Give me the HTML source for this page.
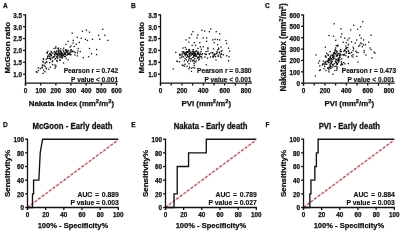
<!DOCTYPE html><html><head><meta charset="utf-8"><style>html,body{margin:0;padding:0;background:#fff;overflow:hidden}svg{display:block}</style></head><body><svg width="400" height="231" viewBox="0 0 400 231" font-family="'Liberation Sans', sans-serif" font-weight="bold" fill="#111" style="will-change:transform">
<g>
<rect width="400" height="231" fill="#fff"/>
<text x="0" y="0" transform="translate(3.10 7.50) scale(1 1.0)" font-size="6.5" text-anchor="start" stroke="#111" stroke-width="0.25" >A</text>
<text x="0" y="0" transform="translate(131.10 7.50) scale(1 1.0)" font-size="6.5" text-anchor="start" stroke="#111" stroke-width="0.25" >B</text>
<text x="0" y="0" transform="translate(265.10 7.50) scale(1 1.0)" font-size="6.5" text-anchor="start" stroke="#111" stroke-width="0.25" >C</text>
<text x="0" y="0" transform="translate(3.10 126.70) scale(1 1.0)" font-size="6.5" text-anchor="start" stroke="#111" stroke-width="0.25" >D</text>
<text x="0" y="0" transform="translate(131.30 126.70) scale(1 1.0)" font-size="6.5" text-anchor="start" stroke="#111" stroke-width="0.25" >E</text>
<text x="0" y="0" transform="translate(265.60 126.70) scale(1 1.0)" font-size="6.5" text-anchor="start" stroke="#111" stroke-width="0.25" >F</text>
<rect x="50.91" y="54.57" width="1.3" height="1.3" fill="#111"/>
<rect x="66.16" y="50.98" width="1.3" height="1.3" fill="#111"/>
<rect x="50.08" y="53.63" width="1.3" height="1.3" fill="#111"/>
<rect x="62.93" y="55.03" width="1.3" height="1.3" fill="#111"/>
<rect x="50.58" y="50.74" width="1.3" height="1.3" fill="#111"/>
<rect x="64.38" y="53.44" width="1.3" height="1.3" fill="#111"/>
<rect x="70.26" y="54.03" width="1.3" height="1.3" fill="#111"/>
<rect x="58.58" y="52.29" width="1.3" height="1.3" fill="#111"/>
<rect x="77.19" y="50.39" width="1.3" height="1.3" fill="#111"/>
<rect x="53.62" y="50.79" width="1.3" height="1.3" fill="#111"/>
<rect x="60.05" y="53.12" width="1.3" height="1.3" fill="#111"/>
<rect x="56.93" y="52.95" width="1.3" height="1.3" fill="#111"/>
<rect x="61.41" y="54.24" width="1.3" height="1.3" fill="#111"/>
<rect x="67.04" y="52.56" width="1.3" height="1.3" fill="#111"/>
<rect x="47.05" y="55.71" width="1.3" height="1.3" fill="#111"/>
<rect x="49.42" y="53.45" width="1.3" height="1.3" fill="#111"/>
<rect x="49.09" y="53.88" width="1.3" height="1.3" fill="#111"/>
<rect x="53.98" y="53.88" width="1.3" height="1.3" fill="#111"/>
<rect x="64.91" y="49.23" width="1.3" height="1.3" fill="#111"/>
<rect x="57.50" y="54.57" width="1.3" height="1.3" fill="#111"/>
<rect x="58.79" y="53.76" width="1.3" height="1.3" fill="#111"/>
<rect x="59.84" y="50.48" width="1.3" height="1.3" fill="#111"/>
<rect x="63.09" y="50.60" width="1.3" height="1.3" fill="#111"/>
<rect x="72.27" y="50.39" width="1.3" height="1.3" fill="#111"/>
<rect x="64.13" y="52.38" width="1.3" height="1.3" fill="#111"/>
<rect x="65.85" y="50.81" width="1.3" height="1.3" fill="#111"/>
<rect x="66.28" y="51.87" width="1.3" height="1.3" fill="#111"/>
<rect x="68.29" y="53.40" width="1.3" height="1.3" fill="#111"/>
<rect x="60.15" y="50.97" width="1.3" height="1.3" fill="#111"/>
<rect x="64.81" y="53.38" width="1.3" height="1.3" fill="#111"/>
<rect x="70.70" y="50.84" width="1.3" height="1.3" fill="#111"/>
<rect x="63.33" y="53.62" width="1.3" height="1.3" fill="#111"/>
<rect x="61.37" y="53.13" width="1.3" height="1.3" fill="#111"/>
<rect x="60.48" y="51.35" width="1.3" height="1.3" fill="#111"/>
<rect x="52.19" y="52.65" width="1.3" height="1.3" fill="#111"/>
<rect x="63.81" y="55.90" width="1.3" height="1.3" fill="#111"/>
<rect x="66.40" y="54.58" width="1.3" height="1.3" fill="#111"/>
<rect x="64.92" y="53.91" width="1.3" height="1.3" fill="#111"/>
<rect x="60.80" y="54.49" width="1.3" height="1.3" fill="#111"/>
<rect x="71.63" y="50.86" width="1.3" height="1.3" fill="#111"/>
<rect x="54.97" y="57.82" width="1.3" height="1.3" fill="#111"/>
<rect x="61.28" y="54.90" width="1.3" height="1.3" fill="#111"/>
<rect x="65.18" y="49.64" width="1.3" height="1.3" fill="#111"/>
<rect x="76.71" y="55.21" width="1.3" height="1.3" fill="#111"/>
<rect x="60.76" y="54.45" width="1.3" height="1.3" fill="#111"/>
<rect x="60.03" y="50.74" width="1.3" height="1.3" fill="#111"/>
<rect x="58.66" y="53.78" width="1.3" height="1.3" fill="#111"/>
<rect x="67.28" y="53.69" width="1.3" height="1.3" fill="#111"/>
<rect x="60.08" y="55.91" width="1.3" height="1.3" fill="#111"/>
<rect x="54.23" y="55.20" width="1.3" height="1.3" fill="#111"/>
<rect x="67.03" y="51.40" width="1.3" height="1.3" fill="#111"/>
<rect x="46.67" y="52.03" width="1.3" height="1.3" fill="#111"/>
<rect x="61.12" y="53.89" width="1.3" height="1.3" fill="#111"/>
<rect x="69.90" y="49.47" width="1.3" height="1.3" fill="#111"/>
<rect x="59.51" y="54.33" width="1.3" height="1.3" fill="#111"/>
<rect x="57.71" y="47.54" width="1.3" height="1.3" fill="#111"/>
<rect x="65.50" y="57.58" width="1.3" height="1.3" fill="#111"/>
<rect x="66.13" y="50.05" width="1.3" height="1.3" fill="#111"/>
<rect x="56.53" y="53.65" width="1.3" height="1.3" fill="#111"/>
<rect x="76.83" y="52.52" width="1.3" height="1.3" fill="#111"/>
<rect x="60.50" y="56.33" width="1.3" height="1.3" fill="#111"/>
<rect x="59.21" y="57.17" width="1.3" height="1.3" fill="#111"/>
<rect x="54.47" y="52.24" width="1.3" height="1.3" fill="#111"/>
<rect x="64.70" y="55.61" width="1.3" height="1.3" fill="#111"/>
<rect x="63.97" y="53.08" width="1.3" height="1.3" fill="#111"/>
<rect x="46.50" y="52.49" width="1.3" height="1.3" fill="#111"/>
<rect x="54.97" y="52.06" width="1.3" height="1.3" fill="#111"/>
<rect x="63.36" y="51.67" width="1.3" height="1.3" fill="#111"/>
<rect x="64.86" y="52.49" width="1.3" height="1.3" fill="#111"/>
<rect x="57.06" y="53.35" width="1.3" height="1.3" fill="#111"/>
<rect x="62.53" y="54.51" width="1.3" height="1.3" fill="#111"/>
<rect x="55.97" y="52.65" width="1.3" height="1.3" fill="#111"/>
<rect x="50.22" y="57.47" width="1.3" height="1.3" fill="#111"/>
<rect x="69.42" y="51.43" width="1.3" height="1.3" fill="#111"/>
<rect x="55.73" y="50.36" width="1.3" height="1.3" fill="#111"/>
<rect x="60.58" y="53.20" width="1.3" height="1.3" fill="#111"/>
<rect x="74.60" y="51.89" width="1.3" height="1.3" fill="#111"/>
<rect x="53.37" y="47.80" width="1.3" height="1.3" fill="#111"/>
<rect x="69.21" y="52.30" width="1.3" height="1.3" fill="#111"/>
<rect x="48.18" y="54.39" width="1.3" height="1.3" fill="#111"/>
<rect x="48.95" y="61.94" width="1.3" height="1.3" fill="#111"/>
<rect x="67.27" y="53.38" width="1.3" height="1.3" fill="#111"/>
<rect x="57.64" y="48.08" width="1.3" height="1.3" fill="#111"/>
<rect x="58.11" y="49.38" width="1.3" height="1.3" fill="#111"/>
<rect x="63.01" y="47.54" width="1.3" height="1.3" fill="#111"/>
<rect x="53.31" y="56.28" width="1.3" height="1.3" fill="#111"/>
<rect x="70.53" y="49.00" width="1.3" height="1.3" fill="#111"/>
<rect x="48.87" y="55.93" width="1.3" height="1.3" fill="#111"/>
<rect x="65.07" y="50.00" width="1.3" height="1.3" fill="#111"/>
<rect x="54.35" y="51.75" width="1.3" height="1.3" fill="#111"/>
<rect x="50.91" y="52.12" width="1.3" height="1.3" fill="#111"/>
<rect x="68.22" y="53.55" width="1.3" height="1.3" fill="#111"/>
<rect x="73.65" y="51.22" width="1.3" height="1.3" fill="#111"/>
<rect x="58.18" y="50.70" width="1.3" height="1.3" fill="#111"/>
<rect x="58.19" y="49.93" width="1.3" height="1.3" fill="#111"/>
<rect x="47.13" y="55.69" width="1.3" height="1.3" fill="#111"/>
<rect x="69.57" y="53.76" width="1.3" height="1.3" fill="#111"/>
<rect x="68.69" y="52.50" width="1.3" height="1.3" fill="#111"/>
<rect x="54.37" y="53.55" width="1.3" height="1.3" fill="#111"/>
<rect x="56.49" y="50.57" width="1.3" height="1.3" fill="#111"/>
<rect x="47.22" y="50.64" width="1.3" height="1.3" fill="#111"/>
<rect x="59.35" y="53.20" width="1.3" height="1.3" fill="#111"/>
<rect x="56.37" y="56.45" width="1.3" height="1.3" fill="#111"/>
<rect x="60.73" y="54.06" width="1.3" height="1.3" fill="#111"/>
<rect x="67.65" y="50.12" width="1.3" height="1.3" fill="#111"/>
<rect x="45.67" y="67.62" width="1.3" height="1.3" fill="#111"/>
<rect x="54.33" y="64.40" width="1.3" height="1.3" fill="#111"/>
<rect x="59.57" y="59.34" width="1.3" height="1.3" fill="#111"/>
<rect x="55.06" y="47.46" width="1.3" height="1.3" fill="#111"/>
<rect x="57.98" y="52.29" width="1.3" height="1.3" fill="#111"/>
<rect x="50.00" y="58.90" width="1.3" height="1.3" fill="#111"/>
<rect x="61.79" y="57.23" width="1.3" height="1.3" fill="#111"/>
<rect x="57.44" y="47.87" width="1.3" height="1.3" fill="#111"/>
<rect x="46.57" y="51.84" width="1.3" height="1.3" fill="#111"/>
<rect x="56.12" y="59.73" width="1.3" height="1.3" fill="#111"/>
<rect x="51.49" y="61.18" width="1.3" height="1.3" fill="#111"/>
<rect x="58.96" y="59.76" width="1.3" height="1.3" fill="#111"/>
<rect x="48.73" y="57.86" width="1.3" height="1.3" fill="#111"/>
<rect x="54.90" y="66.15" width="1.3" height="1.3" fill="#111"/>
<rect x="61.37" y="52.63" width="1.3" height="1.3" fill="#111"/>
<rect x="56.91" y="56.84" width="1.3" height="1.3" fill="#111"/>
<rect x="56.05" y="55.86" width="1.3" height="1.3" fill="#111"/>
<rect x="50.58" y="54.52" width="1.3" height="1.3" fill="#111"/>
<rect x="55.37" y="65.34" width="1.3" height="1.3" fill="#111"/>
<rect x="58.60" y="55.44" width="1.3" height="1.3" fill="#111"/>
<rect x="54.25" y="58.41" width="1.3" height="1.3" fill="#111"/>
<rect x="55.93" y="53.82" width="1.3" height="1.3" fill="#111"/>
<rect x="57.03" y="57.37" width="1.3" height="1.3" fill="#111"/>
<rect x="49.24" y="57.70" width="1.3" height="1.3" fill="#111"/>
<rect x="47.18" y="57.79" width="1.3" height="1.3" fill="#111"/>
<rect x="55.16" y="46.04" width="1.3" height="1.3" fill="#111"/>
<rect x="52.43" y="56.39" width="1.3" height="1.3" fill="#111"/>
<rect x="51.99" y="60.12" width="1.3" height="1.3" fill="#111"/>
<rect x="62.04" y="53.14" width="1.3" height="1.3" fill="#111"/>
<rect x="53.16" y="55.88" width="1.3" height="1.3" fill="#111"/>
<rect x="56.66" y="60.87" width="1.3" height="1.3" fill="#111"/>
<rect x="50.48" y="55.12" width="1.3" height="1.3" fill="#111"/>
<rect x="45.55" y="58.69" width="1.3" height="1.3" fill="#111"/>
<rect x="49.80" y="66.47" width="1.3" height="1.3" fill="#111"/>
<rect x="56.87" y="55.16" width="1.3" height="1.3" fill="#111"/>
<rect x="62.30" y="49.41" width="1.3" height="1.3" fill="#111"/>
<rect x="61.51" y="57.02" width="1.3" height="1.3" fill="#111"/>
<rect x="42.90" y="58.32" width="1.3" height="1.3" fill="#111"/>
<rect x="52.04" y="64.01" width="1.3" height="1.3" fill="#111"/>
<rect x="60.07" y="48.17" width="1.3" height="1.3" fill="#111"/>
<rect x="60.54" y="51.94" width="1.3" height="1.3" fill="#111"/>
<rect x="51.83" y="57.09" width="1.3" height="1.3" fill="#111"/>
<rect x="49.37" y="52.63" width="1.3" height="1.3" fill="#111"/>
<rect x="46.77" y="57.23" width="1.3" height="1.3" fill="#111"/>
<rect x="62.90" y="62.31" width="1.3" height="1.3" fill="#111"/>
<rect x="70.37" y="45.44" width="1.3" height="1.3" fill="#111"/>
<rect x="44.49" y="62.81" width="1.3" height="1.3" fill="#111"/>
<rect x="54.40" y="67.61" width="1.3" height="1.3" fill="#111"/>
<rect x="57.00" y="52.69" width="1.3" height="1.3" fill="#111"/>
<rect x="61.97" y="55.42" width="1.3" height="1.3" fill="#111"/>
<rect x="35.54" y="71.07" width="1.3" height="1.3" fill="#111"/>
<rect x="41.56" y="67.25" width="1.3" height="1.3" fill="#111"/>
<rect x="42.08" y="65.17" width="1.3" height="1.3" fill="#111"/>
<rect x="41.75" y="64.44" width="1.3" height="1.3" fill="#111"/>
<rect x="42.49" y="72.73" width="1.3" height="1.3" fill="#111"/>
<rect x="44.55" y="65.97" width="1.3" height="1.3" fill="#111"/>
<rect x="36.44" y="71.72" width="1.3" height="1.3" fill="#111"/>
<rect x="42.42" y="60.71" width="1.3" height="1.3" fill="#111"/>
<rect x="45.34" y="61.60" width="1.3" height="1.3" fill="#111"/>
<rect x="43.47" y="64.63" width="1.3" height="1.3" fill="#111"/>
<rect x="45.70" y="68.08" width="1.3" height="1.3" fill="#111"/>
<rect x="44.31" y="71.07" width="1.3" height="1.3" fill="#111"/>
<rect x="37.62" y="67.21" width="1.3" height="1.3" fill="#111"/>
<rect x="42.53" y="61.57" width="1.3" height="1.3" fill="#111"/>
<rect x="43.01" y="69.57" width="1.3" height="1.3" fill="#111"/>
<rect x="42.75" y="58.30" width="1.3" height="1.3" fill="#111"/>
<rect x="48.17" y="68.47" width="1.3" height="1.3" fill="#111"/>
<rect x="46.00" y="61.56" width="1.3" height="1.3" fill="#111"/>
<rect x="39.62" y="67.88" width="1.3" height="1.3" fill="#111"/>
<rect x="37.76" y="69.93" width="1.3" height="1.3" fill="#111"/>
<rect x="41.38" y="66.72" width="1.3" height="1.3" fill="#111"/>
<rect x="45.97" y="61.63" width="1.3" height="1.3" fill="#111"/>
<rect x="102.05" y="28.55" width="1.3" height="1.3" fill="#111"/>
<rect x="85.75" y="29.55" width="1.3" height="1.3" fill="#111"/>
<rect x="81.75" y="30.55" width="1.3" height="1.3" fill="#111"/>
<rect x="88.85" y="31.55" width="1.3" height="1.3" fill="#111"/>
<rect x="71.55" y="32.55" width="1.3" height="1.3" fill="#111"/>
<rect x="98.05" y="34.65" width="1.3" height="1.3" fill="#111"/>
<rect x="104.15" y="34.65" width="1.3" height="1.3" fill="#111"/>
<rect x="76.65" y="36.65" width="1.3" height="1.3" fill="#111"/>
<rect x="80.65" y="37.65" width="1.3" height="1.3" fill="#111"/>
<rect x="84.75" y="38.65" width="1.3" height="1.3" fill="#111"/>
<rect x="86.85" y="39.75" width="1.3" height="1.3" fill="#111"/>
<rect x="99.05" y="38.65" width="1.3" height="1.3" fill="#111"/>
<rect x="107.15" y="39.75" width="1.3" height="1.3" fill="#111"/>
<rect x="91.85" y="38.65" width="1.3" height="1.3" fill="#111"/>
<rect x="72.55" y="39.75" width="1.3" height="1.3" fill="#111"/>
<rect x="67.45" y="40.75" width="1.3" height="1.3" fill="#111"/>
<rect x="78.65" y="41.75" width="1.3" height="1.3" fill="#111"/>
<rect x="75.65" y="43.75" width="1.3" height="1.3" fill="#111"/>
<rect x="65.35" y="43.75" width="1.3" height="1.3" fill="#111"/>
<rect x="73.55" y="45.85" width="1.3" height="1.3" fill="#111"/>
<rect x="88.85" y="47.85" width="1.3" height="1.3" fill="#111"/>
<rect x="79.65" y="50.95" width="1.3" height="1.3" fill="#111"/>
<rect x="95.95" y="48.85" width="1.3" height="1.3" fill="#111"/>
<rect x="90.85" y="52.95" width="1.3" height="1.3" fill="#111"/>
<rect x="95.95" y="53.95" width="1.3" height="1.3" fill="#111"/>
<rect x="82.75" y="57.05" width="1.3" height="1.3" fill="#111"/>
<rect x="87.85" y="56.05" width="1.3" height="1.3" fill="#111"/>
<rect x="67.45" y="59.05" width="1.3" height="1.3" fill="#111"/>
<rect x="69.45" y="53.95" width="1.3" height="1.3" fill="#111"/>
<rect x="77.65" y="47.85" width="1.3" height="1.3" fill="#111"/>
<rect x="71.55" y="50.95" width="1.3" height="1.3" fill="#111"/>
<rect x="69.35" y="46.35" width="1.3" height="1.3" fill="#111"/>
<rect x="74.35" y="54.35" width="1.3" height="1.3" fill="#111"/>
<rect x="66.35" y="49.35" width="1.3" height="1.3" fill="#111"/>
<rect x="72.35" y="42.35" width="1.3" height="1.3" fill="#111"/>
<line x1="25.50" y1="14.40" x2="25.50" y2="85.60" stroke="#111" stroke-width="1.3" />
<line x1="23.10" y1="14.80" x2="25.50" y2="14.80" stroke="#111" stroke-width="1.3" />
<text x="0" y="0" transform="translate(22.10 17.70) scale(1 1.0)" font-size="6.3" text-anchor="end" stroke="#111" stroke-width="0.25" >3.5</text>
<line x1="23.10" y1="26.68" x2="25.50" y2="26.68" stroke="#111" stroke-width="1.3" />
<text x="0" y="0" transform="translate(22.10 29.58) scale(1 1.0)" font-size="6.3" text-anchor="end" stroke="#111" stroke-width="0.25" >3.0</text>
<line x1="23.10" y1="38.56" x2="25.50" y2="38.56" stroke="#111" stroke-width="1.3" />
<text x="0" y="0" transform="translate(22.10 41.46) scale(1 1.0)" font-size="6.3" text-anchor="end" stroke="#111" stroke-width="0.25" >2.5</text>
<line x1="23.10" y1="50.44" x2="25.50" y2="50.44" stroke="#111" stroke-width="1.3" />
<text x="0" y="0" transform="translate(22.10 53.34) scale(1 1.0)" font-size="6.3" text-anchor="end" stroke="#111" stroke-width="0.25" >2.0</text>
<line x1="23.10" y1="62.32" x2="25.50" y2="62.32" stroke="#111" stroke-width="1.3" />
<text x="0" y="0" transform="translate(22.10 65.22) scale(1 1.0)" font-size="6.3" text-anchor="end" stroke="#111" stroke-width="0.25" >1.5</text>
<line x1="23.10" y1="74.20" x2="25.50" y2="74.20" stroke="#111" stroke-width="1.3" />
<text x="0" y="0" transform="translate(22.10 77.10) scale(1 1.0)" font-size="6.3" text-anchor="end" stroke="#111" stroke-width="0.25" >1.0</text>
<line x1="24.90" y1="83.20" x2="117.30" y2="83.20" stroke="#111" stroke-width="1.3" />
<line x1="25.50" y1="83.20" x2="25.50" y2="85.60" stroke="#111" stroke-width="1.3" />
<text x="0" y="0" transform="translate(25.50 92.80) scale(1 1.0)" font-size="6.3" text-anchor="middle" stroke="#111" stroke-width="0.25" >0</text>
<line x1="40.67" y1="83.20" x2="40.67" y2="85.60" stroke="#111" stroke-width="1.3" />
<text x="0" y="0" transform="translate(40.67 92.80) scale(1 1.0)" font-size="6.3" text-anchor="middle" stroke="#111" stroke-width="0.25" >100</text>
<line x1="55.84" y1="83.20" x2="55.84" y2="85.60" stroke="#111" stroke-width="1.3" />
<text x="0" y="0" transform="translate(55.84 92.80) scale(1 1.0)" font-size="6.3" text-anchor="middle" stroke="#111" stroke-width="0.25" >200</text>
<line x1="71.01" y1="83.20" x2="71.01" y2="85.60" stroke="#111" stroke-width="1.3" />
<text x="0" y="0" transform="translate(71.01 92.80) scale(1 1.0)" font-size="6.3" text-anchor="middle" stroke="#111" stroke-width="0.25" >300</text>
<line x1="86.18" y1="83.20" x2="86.18" y2="85.60" stroke="#111" stroke-width="1.3" />
<text x="0" y="0" transform="translate(86.18 92.80) scale(1 1.0)" font-size="6.3" text-anchor="middle" stroke="#111" stroke-width="0.25" >400</text>
<line x1="101.35" y1="83.20" x2="101.35" y2="85.60" stroke="#111" stroke-width="1.3" />
<text x="0" y="0" transform="translate(101.35 92.80) scale(1 1.0)" font-size="6.3" text-anchor="middle" stroke="#111" stroke-width="0.25" >500</text>
<line x1="116.52" y1="83.20" x2="116.52" y2="85.60" stroke="#111" stroke-width="1.3" />
<text x="0" y="0" transform="translate(116.52 92.80) scale(1 1.0)" font-size="6.3" text-anchor="middle" stroke="#111" stroke-width="0.25" >600</text>
<text x="0" y="0" transform="translate(71.40 106.10) scale(1 1.0)" font-size="7.85" text-anchor="middle" stroke="#111" stroke-width="0.25" >Nakata index (mm<tspan font-size="5.8" dy="-3.1">2</tspan><tspan dy="3.1">/m</tspan><tspan font-size="5.8" dy="-3.1">2</tspan><tspan dy="3.1">)</tspan></text>
<text x="0" y="0" font-size="8.0" text-anchor="middle" stroke="#111" stroke-width="0.25" transform="translate(9.6 47.7) rotate(-90)">McGoon ratio</text>
<text x="0" y="0" transform="translate(118.10 73.10) scale(1 1.0)" font-size="6.6" text-anchor="end" stroke="#111" stroke-width="0.15" >Pearson r = 0.742</text>
<text x="0" y="0" transform="translate(118.10 81.60) scale(1 1.0)" font-size="6.6" text-anchor="end" stroke="#111" stroke-width="0.15" >P value &lt; 0.001</text>
<rect x="180.96" y="56.58" width="1.3" height="1.3" fill="#111"/>
<rect x="184.23" y="52.69" width="1.3" height="1.3" fill="#111"/>
<rect x="192.21" y="52.96" width="1.3" height="1.3" fill="#111"/>
<rect x="184.82" y="53.20" width="1.3" height="1.3" fill="#111"/>
<rect x="211.92" y="52.27" width="1.3" height="1.3" fill="#111"/>
<rect x="192.19" y="56.77" width="1.3" height="1.3" fill="#111"/>
<rect x="199.68" y="55.83" width="1.3" height="1.3" fill="#111"/>
<rect x="200.68" y="48.73" width="1.3" height="1.3" fill="#111"/>
<rect x="186.01" y="54.18" width="1.3" height="1.3" fill="#111"/>
<rect x="197.59" y="57.22" width="1.3" height="1.3" fill="#111"/>
<rect x="197.34" y="53.23" width="1.3" height="1.3" fill="#111"/>
<rect x="193.68" y="53.30" width="1.3" height="1.3" fill="#111"/>
<rect x="195.45" y="55.60" width="1.3" height="1.3" fill="#111"/>
<rect x="190.46" y="51.73" width="1.3" height="1.3" fill="#111"/>
<rect x="186.08" y="56.70" width="1.3" height="1.3" fill="#111"/>
<rect x="204.24" y="56.43" width="1.3" height="1.3" fill="#111"/>
<rect x="200.63" y="56.02" width="1.3" height="1.3" fill="#111"/>
<rect x="193.33" y="55.58" width="1.3" height="1.3" fill="#111"/>
<rect x="184.41" y="53.32" width="1.3" height="1.3" fill="#111"/>
<rect x="187.11" y="55.74" width="1.3" height="1.3" fill="#111"/>
<rect x="188.42" y="53.57" width="1.3" height="1.3" fill="#111"/>
<rect x="196.75" y="57.37" width="1.3" height="1.3" fill="#111"/>
<rect x="186.62" y="51.41" width="1.3" height="1.3" fill="#111"/>
<rect x="200.30" y="50.97" width="1.3" height="1.3" fill="#111"/>
<rect x="197.20" y="52.37" width="1.3" height="1.3" fill="#111"/>
<rect x="192.45" y="49.12" width="1.3" height="1.3" fill="#111"/>
<rect x="199.41" y="52.55" width="1.3" height="1.3" fill="#111"/>
<rect x="185.71" y="59.25" width="1.3" height="1.3" fill="#111"/>
<rect x="196.82" y="52.94" width="1.3" height="1.3" fill="#111"/>
<rect x="194.27" y="58.03" width="1.3" height="1.3" fill="#111"/>
<rect x="193.12" y="55.02" width="1.3" height="1.3" fill="#111"/>
<rect x="197.74" y="51.48" width="1.3" height="1.3" fill="#111"/>
<rect x="194.45" y="52.54" width="1.3" height="1.3" fill="#111"/>
<rect x="182.76" y="56.12" width="1.3" height="1.3" fill="#111"/>
<rect x="199.01" y="54.04" width="1.3" height="1.3" fill="#111"/>
<rect x="185.64" y="48.63" width="1.3" height="1.3" fill="#111"/>
<rect x="197.48" y="53.60" width="1.3" height="1.3" fill="#111"/>
<rect x="179.04" y="53.69" width="1.3" height="1.3" fill="#111"/>
<rect x="180.42" y="53.78" width="1.3" height="1.3" fill="#111"/>
<rect x="194.57" y="54.77" width="1.3" height="1.3" fill="#111"/>
<rect x="195.19" y="54.29" width="1.3" height="1.3" fill="#111"/>
<rect x="183.66" y="52.85" width="1.3" height="1.3" fill="#111"/>
<rect x="189.00" y="53.24" width="1.3" height="1.3" fill="#111"/>
<rect x="195.65" y="55.46" width="1.3" height="1.3" fill="#111"/>
<rect x="207.25" y="47.17" width="1.3" height="1.3" fill="#111"/>
<rect x="196.76" y="53.33" width="1.3" height="1.3" fill="#111"/>
<rect x="212.70" y="56.28" width="1.3" height="1.3" fill="#111"/>
<rect x="179.30" y="54.89" width="1.3" height="1.3" fill="#111"/>
<rect x="188.92" y="56.43" width="1.3" height="1.3" fill="#111"/>
<rect x="184.38" y="53.59" width="1.3" height="1.3" fill="#111"/>
<rect x="192.23" y="53.60" width="1.3" height="1.3" fill="#111"/>
<rect x="188.39" y="49.07" width="1.3" height="1.3" fill="#111"/>
<rect x="197.26" y="56.45" width="1.3" height="1.3" fill="#111"/>
<rect x="192.77" y="51.21" width="1.3" height="1.3" fill="#111"/>
<rect x="195.08" y="55.32" width="1.3" height="1.3" fill="#111"/>
<rect x="191.86" y="53.81" width="1.3" height="1.3" fill="#111"/>
<rect x="205.32" y="50.94" width="1.3" height="1.3" fill="#111"/>
<rect x="188.61" y="48.90" width="1.3" height="1.3" fill="#111"/>
<rect x="187.40" y="51.93" width="1.3" height="1.3" fill="#111"/>
<rect x="185.19" y="52.05" width="1.3" height="1.3" fill="#111"/>
<rect x="208.62" y="53.34" width="1.3" height="1.3" fill="#111"/>
<rect x="192.38" y="59.57" width="1.3" height="1.3" fill="#111"/>
<rect x="192.83" y="49.34" width="1.3" height="1.3" fill="#111"/>
<rect x="196.78" y="51.41" width="1.3" height="1.3" fill="#111"/>
<rect x="207.28" y="50.61" width="1.3" height="1.3" fill="#111"/>
<rect x="188.42" y="49.67" width="1.3" height="1.3" fill="#111"/>
<rect x="194.18" y="51.21" width="1.3" height="1.3" fill="#111"/>
<rect x="192.79" y="52.87" width="1.3" height="1.3" fill="#111"/>
<rect x="188.14" y="56.30" width="1.3" height="1.3" fill="#111"/>
<rect x="201.30" y="54.01" width="1.3" height="1.3" fill="#111"/>
<rect x="185.70" y="51.07" width="1.3" height="1.3" fill="#111"/>
<rect x="195.64" y="60.07" width="1.3" height="1.3" fill="#111"/>
<rect x="189.47" y="51.81" width="1.3" height="1.3" fill="#111"/>
<rect x="187.42" y="51.00" width="1.3" height="1.3" fill="#111"/>
<rect x="185.09" y="53.32" width="1.3" height="1.3" fill="#111"/>
<rect x="205.54" y="53.85" width="1.3" height="1.3" fill="#111"/>
<rect x="189.01" y="49.65" width="1.3" height="1.3" fill="#111"/>
<rect x="195.16" y="53.78" width="1.3" height="1.3" fill="#111"/>
<rect x="182.93" y="51.02" width="1.3" height="1.3" fill="#111"/>
<rect x="192.99" y="56.48" width="1.3" height="1.3" fill="#111"/>
<rect x="198.68" y="54.38" width="1.3" height="1.3" fill="#111"/>
<rect x="190.60" y="54.68" width="1.3" height="1.3" fill="#111"/>
<rect x="193.25" y="59.50" width="1.3" height="1.3" fill="#111"/>
<rect x="183.73" y="52.89" width="1.3" height="1.3" fill="#111"/>
<rect x="204.13" y="53.16" width="1.3" height="1.3" fill="#111"/>
<rect x="205.46" y="53.74" width="1.3" height="1.3" fill="#111"/>
<rect x="194.59" y="52.89" width="1.3" height="1.3" fill="#111"/>
<rect x="181.62" y="51.33" width="1.3" height="1.3" fill="#111"/>
<rect x="212.18" y="55.53" width="1.3" height="1.3" fill="#111"/>
<rect x="198.50" y="56.33" width="1.3" height="1.3" fill="#111"/>
<rect x="198.19" y="56.51" width="1.3" height="1.3" fill="#111"/>
<rect x="191.09" y="53.27" width="1.3" height="1.3" fill="#111"/>
<rect x="201.71" y="52.93" width="1.3" height="1.3" fill="#111"/>
<rect x="182.04" y="53.26" width="1.3" height="1.3" fill="#111"/>
<rect x="188.72" y="55.44" width="1.3" height="1.3" fill="#111"/>
<rect x="187.23" y="51.09" width="1.3" height="1.3" fill="#111"/>
<rect x="190.53" y="57.89" width="1.3" height="1.3" fill="#111"/>
<rect x="192.94" y="54.27" width="1.3" height="1.3" fill="#111"/>
<rect x="193.43" y="54.62" width="1.3" height="1.3" fill="#111"/>
<rect x="201.24" y="57.48" width="1.3" height="1.3" fill="#111"/>
<rect x="179.37" y="57.39" width="1.3" height="1.3" fill="#111"/>
<rect x="193.32" y="53.02" width="1.3" height="1.3" fill="#111"/>
<rect x="213.74" y="53.41" width="1.3" height="1.3" fill="#111"/>
<rect x="209.88" y="56.37" width="1.3" height="1.3" fill="#111"/>
<rect x="184.60" y="55.12" width="1.3" height="1.3" fill="#111"/>
<rect x="199.61" y="53.52" width="1.3" height="1.3" fill="#111"/>
<rect x="191.72" y="50.97" width="1.3" height="1.3" fill="#111"/>
<rect x="208.87" y="53.21" width="1.3" height="1.3" fill="#111"/>
<rect x="190.01" y="53.07" width="1.3" height="1.3" fill="#111"/>
<rect x="186.69" y="51.83" width="1.3" height="1.3" fill="#111"/>
<rect x="194.15" y="54.66" width="1.3" height="1.3" fill="#111"/>
<rect x="189.04" y="53.61" width="1.3" height="1.3" fill="#111"/>
<rect x="181.53" y="55.21" width="1.3" height="1.3" fill="#111"/>
<rect x="186.98" y="54.41" width="1.3" height="1.3" fill="#111"/>
<rect x="185.64" y="52.51" width="1.3" height="1.3" fill="#111"/>
<rect x="195.18" y="50.70" width="1.3" height="1.3" fill="#111"/>
<rect x="214.34" y="53.75" width="1.3" height="1.3" fill="#111"/>
<rect x="192.73" y="51.94" width="1.3" height="1.3" fill="#111"/>
<rect x="206.91" y="57.45" width="1.3" height="1.3" fill="#111"/>
<rect x="195.90" y="50.29" width="1.3" height="1.3" fill="#111"/>
<rect x="189.06" y="55.45" width="1.3" height="1.3" fill="#111"/>
<rect x="189.00" y="50.77" width="1.3" height="1.3" fill="#111"/>
<rect x="183.26" y="51.84" width="1.3" height="1.3" fill="#111"/>
<rect x="193.47" y="52.16" width="1.3" height="1.3" fill="#111"/>
<rect x="193.50" y="61.11" width="1.3" height="1.3" fill="#111"/>
<rect x="228.99" y="50.56" width="1.3" height="1.3" fill="#111"/>
<rect x="220.41" y="53.37" width="1.3" height="1.3" fill="#111"/>
<rect x="217.52" y="55.76" width="1.3" height="1.3" fill="#111"/>
<rect x="216.36" y="52.34" width="1.3" height="1.3" fill="#111"/>
<rect x="216.10" y="52.90" width="1.3" height="1.3" fill="#111"/>
<rect x="226.06" y="55.09" width="1.3" height="1.3" fill="#111"/>
<rect x="210.30" y="52.05" width="1.3" height="1.3" fill="#111"/>
<rect x="213.56" y="55.19" width="1.3" height="1.3" fill="#111"/>
<rect x="219.70" y="55.37" width="1.3" height="1.3" fill="#111"/>
<rect x="217.98" y="48.38" width="1.3" height="1.3" fill="#111"/>
<rect x="221.06" y="53.72" width="1.3" height="1.3" fill="#111"/>
<rect x="221.40" y="49.89" width="1.3" height="1.3" fill="#111"/>
<rect x="218.84" y="51.43" width="1.3" height="1.3" fill="#111"/>
<rect x="214.23" y="54.03" width="1.3" height="1.3" fill="#111"/>
<rect x="220.47" y="50.92" width="1.3" height="1.3" fill="#111"/>
<rect x="214.90" y="55.96" width="1.3" height="1.3" fill="#111"/>
<rect x="218.02" y="47.52" width="1.3" height="1.3" fill="#111"/>
<rect x="213.17" y="54.20" width="1.3" height="1.3" fill="#111"/>
<rect x="228.39" y="56.07" width="1.3" height="1.3" fill="#111"/>
<rect x="220.55" y="53.64" width="1.3" height="1.3" fill="#111"/>
<rect x="211.99" y="52.02" width="1.3" height="1.3" fill="#111"/>
<rect x="216.35" y="51.21" width="1.3" height="1.3" fill="#111"/>
<rect x="218.73" y="52.17" width="1.3" height="1.3" fill="#111"/>
<rect x="220.37" y="56.74" width="1.3" height="1.3" fill="#111"/>
<rect x="222.80" y="54.19" width="1.3" height="1.3" fill="#111"/>
<rect x="216.91" y="49.35" width="1.3" height="1.3" fill="#111"/>
<rect x="217.67" y="54.51" width="1.3" height="1.3" fill="#111"/>
<rect x="212.30" y="56.28" width="1.3" height="1.3" fill="#111"/>
<rect x="184.35" y="63.65" width="1.3" height="1.3" fill="#111"/>
<rect x="184.38" y="57.96" width="1.3" height="1.3" fill="#111"/>
<rect x="198.76" y="58.29" width="1.3" height="1.3" fill="#111"/>
<rect x="191.86" y="60.40" width="1.3" height="1.3" fill="#111"/>
<rect x="188.02" y="59.53" width="1.3" height="1.3" fill="#111"/>
<rect x="183.85" y="65.57" width="1.3" height="1.3" fill="#111"/>
<rect x="198.02" y="59.39" width="1.3" height="1.3" fill="#111"/>
<rect x="186.41" y="65.67" width="1.3" height="1.3" fill="#111"/>
<rect x="182.56" y="64.84" width="1.3" height="1.3" fill="#111"/>
<rect x="181.64" y="64.46" width="1.3" height="1.3" fill="#111"/>
<rect x="188.97" y="66.59" width="1.3" height="1.3" fill="#111"/>
<rect x="188.53" y="58.17" width="1.3" height="1.3" fill="#111"/>
<rect x="190.34" y="58.49" width="1.3" height="1.3" fill="#111"/>
<rect x="190.85" y="67.64" width="1.3" height="1.3" fill="#111"/>
<rect x="189.92" y="60.41" width="1.3" height="1.3" fill="#111"/>
<rect x="193.50" y="62.94" width="1.3" height="1.3" fill="#111"/>
<rect x="178.88" y="61.11" width="1.3" height="1.3" fill="#111"/>
<rect x="194.87" y="61.29" width="1.3" height="1.3" fill="#111"/>
<rect x="187.08" y="61.15" width="1.3" height="1.3" fill="#111"/>
<rect x="176.23" y="60.56" width="1.3" height="1.3" fill="#111"/>
<rect x="188.49" y="63.08" width="1.3" height="1.3" fill="#111"/>
<rect x="193.68" y="64.87" width="1.3" height="1.3" fill="#111"/>
<rect x="192.49" y="66.90" width="1.3" height="1.3" fill="#111"/>
<rect x="183.68" y="60.23" width="1.3" height="1.3" fill="#111"/>
<rect x="188.24" y="68.21" width="1.3" height="1.3" fill="#111"/>
<rect x="210.15" y="28.25" width="1.3" height="1.3" fill="#111"/>
<rect x="201.15" y="29.65" width="1.3" height="1.3" fill="#111"/>
<rect x="203.95" y="30.35" width="1.3" height="1.3" fill="#111"/>
<rect x="208.75" y="31.05" width="1.3" height="1.3" fill="#111"/>
<rect x="192.25" y="31.05" width="1.3" height="1.3" fill="#111"/>
<rect x="215.65" y="31.05" width="1.3" height="1.3" fill="#111"/>
<rect x="219.05" y="33.15" width="1.3" height="1.3" fill="#111"/>
<rect x="190.85" y="33.75" width="1.3" height="1.3" fill="#111"/>
<rect x="197.05" y="34.45" width="1.3" height="1.3" fill="#111"/>
<rect x="196.35" y="37.25" width="1.3" height="1.3" fill="#111"/>
<rect x="202.55" y="37.25" width="1.3" height="1.3" fill="#111"/>
<rect x="205.95" y="37.25" width="1.3" height="1.3" fill="#111"/>
<rect x="188.75" y="37.25" width="1.3" height="1.3" fill="#111"/>
<rect x="185.35" y="39.25" width="1.3" height="1.3" fill="#111"/>
<rect x="188.15" y="41.35" width="1.3" height="1.3" fill="#111"/>
<rect x="212.15" y="39.25" width="1.3" height="1.3" fill="#111"/>
<rect x="214.35" y="38.65" width="1.3" height="1.3" fill="#111"/>
<rect x="216.85" y="38.95" width="1.3" height="1.3" fill="#111"/>
<rect x="219.05" y="39.25" width="1.3" height="1.3" fill="#111"/>
<rect x="225.25" y="39.95" width="1.3" height="1.3" fill="#111"/>
<rect x="193.65" y="42.05" width="1.3" height="1.3" fill="#111"/>
<rect x="199.15" y="42.05" width="1.3" height="1.3" fill="#111"/>
<rect x="205.95" y="40.65" width="1.3" height="1.3" fill="#111"/>
<rect x="213.55" y="42.05" width="1.3" height="1.3" fill="#111"/>
<rect x="225.95" y="42.75" width="1.3" height="1.3" fill="#111"/>
<rect x="191.55" y="44.75" width="1.3" height="1.3" fill="#111"/>
<rect x="194.95" y="44.75" width="1.3" height="1.3" fill="#111"/>
<rect x="199.75" y="46.15" width="1.3" height="1.3" fill="#111"/>
<rect x="202.55" y="46.15" width="1.3" height="1.3" fill="#111"/>
<rect x="184.65" y="46.85" width="1.3" height="1.3" fill="#111"/>
<rect x="216.95" y="44.15" width="1.3" height="1.3" fill="#111"/>
<rect x="207.35" y="48.25" width="1.3" height="1.3" fill="#111"/>
<rect x="212.85" y="48.25" width="1.3" height="1.3" fill="#111"/>
<rect x="227.95" y="47.55" width="1.3" height="1.3" fill="#111"/>
<rect x="172.65" y="68.35" width="1.3" height="1.3" fill="#111"/>
<rect x="176.75" y="60.85" width="1.3" height="1.3" fill="#111"/>
<rect x="175.15" y="51.75" width="1.3" height="1.3" fill="#111"/>
<rect x="190.85" y="70.75" width="1.3" height="1.3" fill="#111"/>
<rect x="194.15" y="67.45" width="1.3" height="1.3" fill="#111"/>
<rect x="215.35" y="59.35" width="1.3" height="1.3" fill="#111"/>
<rect x="227.95" y="60.05" width="1.3" height="1.3" fill="#111"/>
<rect x="205.65" y="64.15" width="1.3" height="1.3" fill="#111"/>
<rect x="182.35" y="47.35" width="1.3" height="1.3" fill="#111"/>
<rect x="197.35" y="47.85" width="1.3" height="1.3" fill="#111"/>
<rect x="220.35" y="46.35" width="1.3" height="1.3" fill="#111"/>
<line x1="160.50" y1="14.40" x2="160.50" y2="85.60" stroke="#111" stroke-width="1.3" />
<line x1="158.10" y1="14.80" x2="160.50" y2="14.80" stroke="#111" stroke-width="1.3" />
<text x="0" y="0" transform="translate(157.10 17.70) scale(1 1.0)" font-size="6.3" text-anchor="end" stroke="#111" stroke-width="0.25" >3.5</text>
<line x1="158.10" y1="26.68" x2="160.50" y2="26.68" stroke="#111" stroke-width="1.3" />
<text x="0" y="0" transform="translate(157.10 29.58) scale(1 1.0)" font-size="6.3" text-anchor="end" stroke="#111" stroke-width="0.25" >3.0</text>
<line x1="158.10" y1="38.56" x2="160.50" y2="38.56" stroke="#111" stroke-width="1.3" />
<text x="0" y="0" transform="translate(157.10 41.46) scale(1 1.0)" font-size="6.3" text-anchor="end" stroke="#111" stroke-width="0.25" >2.5</text>
<line x1="158.10" y1="50.44" x2="160.50" y2="50.44" stroke="#111" stroke-width="1.3" />
<text x="0" y="0" transform="translate(157.10 53.34) scale(1 1.0)" font-size="6.3" text-anchor="end" stroke="#111" stroke-width="0.25" >2.0</text>
<line x1="158.10" y1="62.32" x2="160.50" y2="62.32" stroke="#111" stroke-width="1.3" />
<text x="0" y="0" transform="translate(157.10 65.22) scale(1 1.0)" font-size="6.3" text-anchor="end" stroke="#111" stroke-width="0.25" >1.5</text>
<line x1="158.10" y1="74.20" x2="160.50" y2="74.20" stroke="#111" stroke-width="1.3" />
<text x="0" y="0" transform="translate(157.10 77.10) scale(1 1.0)" font-size="6.3" text-anchor="end" stroke="#111" stroke-width="0.25" >1.0</text>
<line x1="159.90" y1="83.20" x2="252.00" y2="83.20" stroke="#111" stroke-width="1.3" />
<line x1="160.50" y1="83.20" x2="160.50" y2="85.60" stroke="#111" stroke-width="1.3" />
<text x="0" y="0" transform="translate(160.50 92.80) scale(1 1.0)" font-size="6.3" text-anchor="middle" stroke="#111" stroke-width="0.25" >0</text>
<line x1="171.20" y1="83.20" x2="171.20" y2="85.60" stroke="#111" stroke-width="1.3" />
<line x1="181.90" y1="83.20" x2="181.90" y2="85.60" stroke="#111" stroke-width="1.3" />
<text x="0" y="0" transform="translate(181.90 92.80) scale(1 1.0)" font-size="6.3" text-anchor="middle" stroke="#111" stroke-width="0.25" >200</text>
<line x1="192.60" y1="83.20" x2="192.60" y2="85.60" stroke="#111" stroke-width="1.3" />
<line x1="203.30" y1="83.20" x2="203.30" y2="85.60" stroke="#111" stroke-width="1.3" />
<text x="0" y="0" transform="translate(203.30 92.80) scale(1 1.0)" font-size="6.3" text-anchor="middle" stroke="#111" stroke-width="0.25" >400</text>
<line x1="214.00" y1="83.20" x2="214.00" y2="85.60" stroke="#111" stroke-width="1.3" />
<line x1="224.70" y1="83.20" x2="224.70" y2="85.60" stroke="#111" stroke-width="1.3" />
<text x="0" y="0" transform="translate(224.70 92.80) scale(1 1.0)" font-size="6.3" text-anchor="middle" stroke="#111" stroke-width="0.25" >600</text>
<line x1="235.40" y1="83.20" x2="235.40" y2="85.60" stroke="#111" stroke-width="1.3" />
<line x1="246.10" y1="83.20" x2="246.10" y2="85.60" stroke="#111" stroke-width="1.3" />
<text x="0" y="0" transform="translate(246.10 92.80) scale(1 1.0)" font-size="6.3" text-anchor="middle" stroke="#111" stroke-width="0.25" >800</text>
<text x="0" y="0" transform="translate(206.30 106.30) scale(1 1.0)" font-size="7.85" text-anchor="middle" stroke="#111" stroke-width="0.25" >PVI (mm<tspan font-size="5.8" dy="-3.1">2</tspan><tspan dy="3.1">/m</tspan><tspan font-size="5.8" dy="-3.1">2</tspan><tspan dy="3.1">)</tspan></text>
<text x="0" y="0" font-size="8.0" text-anchor="middle" stroke="#111" stroke-width="0.25" transform="translate(144.0 47.7) rotate(-90)">McGoon ratio</text>
<text x="0" y="0" transform="translate(251.50 73.10) scale(1 1.0)" font-size="6.6" text-anchor="end" stroke="#111" stroke-width="0.15" >Pearson r = 0.380</text>
<text x="0" y="0" transform="translate(251.50 81.60) scale(1 1.0)" font-size="6.6" text-anchor="end" stroke="#111" stroke-width="0.15" >P value &lt; 0.001</text>
<rect x="321.99" y="63.58" width="1.3" height="1.3" fill="#111"/>
<rect x="329.38" y="64.39" width="1.3" height="1.3" fill="#111"/>
<rect x="340.28" y="54.38" width="1.3" height="1.3" fill="#111"/>
<rect x="325.20" y="63.58" width="1.3" height="1.3" fill="#111"/>
<rect x="327.33" y="53.71" width="1.3" height="1.3" fill="#111"/>
<rect x="336.39" y="54.99" width="1.3" height="1.3" fill="#111"/>
<rect x="333.49" y="52.00" width="1.3" height="1.3" fill="#111"/>
<rect x="335.63" y="50.26" width="1.3" height="1.3" fill="#111"/>
<rect x="334.58" y="48.72" width="1.3" height="1.3" fill="#111"/>
<rect x="339.61" y="54.26" width="1.3" height="1.3" fill="#111"/>
<rect x="322.73" y="63.19" width="1.3" height="1.3" fill="#111"/>
<rect x="332.17" y="54.44" width="1.3" height="1.3" fill="#111"/>
<rect x="330.05" y="62.46" width="1.3" height="1.3" fill="#111"/>
<rect x="324.69" y="46.53" width="1.3" height="1.3" fill="#111"/>
<rect x="330.76" y="62.99" width="1.3" height="1.3" fill="#111"/>
<rect x="336.29" y="63.55" width="1.3" height="1.3" fill="#111"/>
<rect x="337.71" y="58.99" width="1.3" height="1.3" fill="#111"/>
<rect x="340.78" y="61.08" width="1.3" height="1.3" fill="#111"/>
<rect x="331.60" y="56.77" width="1.3" height="1.3" fill="#111"/>
<rect x="339.26" y="58.86" width="1.3" height="1.3" fill="#111"/>
<rect x="318.87" y="60.23" width="1.3" height="1.3" fill="#111"/>
<rect x="335.32" y="59.02" width="1.3" height="1.3" fill="#111"/>
<rect x="335.38" y="61.95" width="1.3" height="1.3" fill="#111"/>
<rect x="336.64" y="66.56" width="1.3" height="1.3" fill="#111"/>
<rect x="328.03" y="59.72" width="1.3" height="1.3" fill="#111"/>
<rect x="335.86" y="62.29" width="1.3" height="1.3" fill="#111"/>
<rect x="340.19" y="64.32" width="1.3" height="1.3" fill="#111"/>
<rect x="332.10" y="66.45" width="1.3" height="1.3" fill="#111"/>
<rect x="332.82" y="53.83" width="1.3" height="1.3" fill="#111"/>
<rect x="336.08" y="69.63" width="1.3" height="1.3" fill="#111"/>
<rect x="335.93" y="55.52" width="1.3" height="1.3" fill="#111"/>
<rect x="328.41" y="62.18" width="1.3" height="1.3" fill="#111"/>
<rect x="347.50" y="56.68" width="1.3" height="1.3" fill="#111"/>
<rect x="332.15" y="54.76" width="1.3" height="1.3" fill="#111"/>
<rect x="324.95" y="62.27" width="1.3" height="1.3" fill="#111"/>
<rect x="328.64" y="58.22" width="1.3" height="1.3" fill="#111"/>
<rect x="339.12" y="57.01" width="1.3" height="1.3" fill="#111"/>
<rect x="327.93" y="69.15" width="1.3" height="1.3" fill="#111"/>
<rect x="327.63" y="54.75" width="1.3" height="1.3" fill="#111"/>
<rect x="335.29" y="61.14" width="1.3" height="1.3" fill="#111"/>
<rect x="331.89" y="63.95" width="1.3" height="1.3" fill="#111"/>
<rect x="335.23" y="53.56" width="1.3" height="1.3" fill="#111"/>
<rect x="334.28" y="65.75" width="1.3" height="1.3" fill="#111"/>
<rect x="341.25" y="63.28" width="1.3" height="1.3" fill="#111"/>
<rect x="343.25" y="54.67" width="1.3" height="1.3" fill="#111"/>
<rect x="335.20" y="49.98" width="1.3" height="1.3" fill="#111"/>
<rect x="337.24" y="59.67" width="1.3" height="1.3" fill="#111"/>
<rect x="330.84" y="58.13" width="1.3" height="1.3" fill="#111"/>
<rect x="326.12" y="63.64" width="1.3" height="1.3" fill="#111"/>
<rect x="339.03" y="54.59" width="1.3" height="1.3" fill="#111"/>
<rect x="334.01" y="55.36" width="1.3" height="1.3" fill="#111"/>
<rect x="331.65" y="54.60" width="1.3" height="1.3" fill="#111"/>
<rect x="334.09" y="57.80" width="1.3" height="1.3" fill="#111"/>
<rect x="332.88" y="56.23" width="1.3" height="1.3" fill="#111"/>
<rect x="324.75" y="61.70" width="1.3" height="1.3" fill="#111"/>
<rect x="341.85" y="64.03" width="1.3" height="1.3" fill="#111"/>
<rect x="332.19" y="64.37" width="1.3" height="1.3" fill="#111"/>
<rect x="337.64" y="59.47" width="1.3" height="1.3" fill="#111"/>
<rect x="323.98" y="65.69" width="1.3" height="1.3" fill="#111"/>
<rect x="329.23" y="67.89" width="1.3" height="1.3" fill="#111"/>
<rect x="338.31" y="60.40" width="1.3" height="1.3" fill="#111"/>
<rect x="318.86" y="69.82" width="1.3" height="1.3" fill="#111"/>
<rect x="333.67" y="52.12" width="1.3" height="1.3" fill="#111"/>
<rect x="338.19" y="57.45" width="1.3" height="1.3" fill="#111"/>
<rect x="329.73" y="57.16" width="1.3" height="1.3" fill="#111"/>
<rect x="325.45" y="60.78" width="1.3" height="1.3" fill="#111"/>
<rect x="332.16" y="56.34" width="1.3" height="1.3" fill="#111"/>
<rect x="327.53" y="59.11" width="1.3" height="1.3" fill="#111"/>
<rect x="329.07" y="66.30" width="1.3" height="1.3" fill="#111"/>
<rect x="332.65" y="64.51" width="1.3" height="1.3" fill="#111"/>
<rect x="327.61" y="67.30" width="1.3" height="1.3" fill="#111"/>
<rect x="333.64" y="62.93" width="1.3" height="1.3" fill="#111"/>
<rect x="329.81" y="56.15" width="1.3" height="1.3" fill="#111"/>
<rect x="338.49" y="54.47" width="1.3" height="1.3" fill="#111"/>
<rect x="329.56" y="56.28" width="1.3" height="1.3" fill="#111"/>
<rect x="332.70" y="57.52" width="1.3" height="1.3" fill="#111"/>
<rect x="334.75" y="60.60" width="1.3" height="1.3" fill="#111"/>
<rect x="325.25" y="55.45" width="1.3" height="1.3" fill="#111"/>
<rect x="336.88" y="62.76" width="1.3" height="1.3" fill="#111"/>
<rect x="333.93" y="52.72" width="1.3" height="1.3" fill="#111"/>
<rect x="336.73" y="59.87" width="1.3" height="1.3" fill="#111"/>
<rect x="334.94" y="60.98" width="1.3" height="1.3" fill="#111"/>
<rect x="330.92" y="61.73" width="1.3" height="1.3" fill="#111"/>
<rect x="336.68" y="54.96" width="1.3" height="1.3" fill="#111"/>
<rect x="323.70" y="63.45" width="1.3" height="1.3" fill="#111"/>
<rect x="329.49" y="50.99" width="1.3" height="1.3" fill="#111"/>
<rect x="329.67" y="64.42" width="1.3" height="1.3" fill="#111"/>
<rect x="331.67" y="60.69" width="1.3" height="1.3" fill="#111"/>
<rect x="326.95" y="67.49" width="1.3" height="1.3" fill="#111"/>
<rect x="342.18" y="53.99" width="1.3" height="1.3" fill="#111"/>
<rect x="325.55" y="56.71" width="1.3" height="1.3" fill="#111"/>
<rect x="337.79" y="57.80" width="1.3" height="1.3" fill="#111"/>
<rect x="330.34" y="67.56" width="1.3" height="1.3" fill="#111"/>
<rect x="338.14" y="60.40" width="1.3" height="1.3" fill="#111"/>
<rect x="321.82" y="64.36" width="1.3" height="1.3" fill="#111"/>
<rect x="333.35" y="52.57" width="1.3" height="1.3" fill="#111"/>
<rect x="340.90" y="63.66" width="1.3" height="1.3" fill="#111"/>
<rect x="336.83" y="53.68" width="1.3" height="1.3" fill="#111"/>
<rect x="330.26" y="66.09" width="1.3" height="1.3" fill="#111"/>
<rect x="340.84" y="62.57" width="1.3" height="1.3" fill="#111"/>
<rect x="339.16" y="56.01" width="1.3" height="1.3" fill="#111"/>
<rect x="325.92" y="52.66" width="1.3" height="1.3" fill="#111"/>
<rect x="341.89" y="67.88" width="1.3" height="1.3" fill="#111"/>
<rect x="328.60" y="59.02" width="1.3" height="1.3" fill="#111"/>
<rect x="336.96" y="59.70" width="1.3" height="1.3" fill="#111"/>
<rect x="322.77" y="60.51" width="1.3" height="1.3" fill="#111"/>
<rect x="330.01" y="65.72" width="1.3" height="1.3" fill="#111"/>
<rect x="347.69" y="62.96" width="1.3" height="1.3" fill="#111"/>
<rect x="344.24" y="63.16" width="1.3" height="1.3" fill="#111"/>
<rect x="324.37" y="61.79" width="1.3" height="1.3" fill="#111"/>
<rect x="327.46" y="60.60" width="1.3" height="1.3" fill="#111"/>
<rect x="332.93" y="52.71" width="1.3" height="1.3" fill="#111"/>
<rect x="343.01" y="61.92" width="1.3" height="1.3" fill="#111"/>
<rect x="335.62" y="65.51" width="1.3" height="1.3" fill="#111"/>
<rect x="332.95" y="56.45" width="1.3" height="1.3" fill="#111"/>
<rect x="329.87" y="60.39" width="1.3" height="1.3" fill="#111"/>
<rect x="336.24" y="58.67" width="1.3" height="1.3" fill="#111"/>
<rect x="345.74" y="52.31" width="1.3" height="1.3" fill="#111"/>
<rect x="328.05" y="57.93" width="1.3" height="1.3" fill="#111"/>
<rect x="324.67" y="55.56" width="1.3" height="1.3" fill="#111"/>
<rect x="328.55" y="66.72" width="1.3" height="1.3" fill="#111"/>
<rect x="332.33" y="58.91" width="1.3" height="1.3" fill="#111"/>
<rect x="336.72" y="63.67" width="1.3" height="1.3" fill="#111"/>
<rect x="337.63" y="61.59" width="1.3" height="1.3" fill="#111"/>
<rect x="328.51" y="60.26" width="1.3" height="1.3" fill="#111"/>
<rect x="327.60" y="61.61" width="1.3" height="1.3" fill="#111"/>
<rect x="326.75" y="60.48" width="1.3" height="1.3" fill="#111"/>
<rect x="330.86" y="59.37" width="1.3" height="1.3" fill="#111"/>
<rect x="329.72" y="58.39" width="1.3" height="1.3" fill="#111"/>
<rect x="339.27" y="54.61" width="1.3" height="1.3" fill="#111"/>
<rect x="336.35" y="51.63" width="1.3" height="1.3" fill="#111"/>
<rect x="335.05" y="47.31" width="1.3" height="1.3" fill="#111"/>
<rect x="347.69" y="43.95" width="1.3" height="1.3" fill="#111"/>
<rect x="337.73" y="52.85" width="1.3" height="1.3" fill="#111"/>
<rect x="334.10" y="50.48" width="1.3" height="1.3" fill="#111"/>
<rect x="345.88" y="51.06" width="1.3" height="1.3" fill="#111"/>
<rect x="345.22" y="45.35" width="1.3" height="1.3" fill="#111"/>
<rect x="347.16" y="46.87" width="1.3" height="1.3" fill="#111"/>
<rect x="343.81" y="49.46" width="1.3" height="1.3" fill="#111"/>
<rect x="356.07" y="51.67" width="1.3" height="1.3" fill="#111"/>
<rect x="336.34" y="50.90" width="1.3" height="1.3" fill="#111"/>
<rect x="363.50" y="49.97" width="1.3" height="1.3" fill="#111"/>
<rect x="339.33" y="50.23" width="1.3" height="1.3" fill="#111"/>
<rect x="343.87" y="53.51" width="1.3" height="1.3" fill="#111"/>
<rect x="347.85" y="51.12" width="1.3" height="1.3" fill="#111"/>
<rect x="335.65" y="44.93" width="1.3" height="1.3" fill="#111"/>
<rect x="330.22" y="54.59" width="1.3" height="1.3" fill="#111"/>
<rect x="351.12" y="55.21" width="1.3" height="1.3" fill="#111"/>
<rect x="363.51" y="51.85" width="1.3" height="1.3" fill="#111"/>
<rect x="357.34" y="51.91" width="1.3" height="1.3" fill="#111"/>
<rect x="347.70" y="49.78" width="1.3" height="1.3" fill="#111"/>
<rect x="348.00" y="52.75" width="1.3" height="1.3" fill="#111"/>
<rect x="345.68" y="51.15" width="1.3" height="1.3" fill="#111"/>
<rect x="362.87" y="44.33" width="1.3" height="1.3" fill="#111"/>
<rect x="339.34" y="52.64" width="1.3" height="1.3" fill="#111"/>
<rect x="344.41" y="49.59" width="1.3" height="1.3" fill="#111"/>
<rect x="370.46" y="48.99" width="1.3" height="1.3" fill="#111"/>
<rect x="343.16" y="54.13" width="1.3" height="1.3" fill="#111"/>
<rect x="340.06" y="50.99" width="1.3" height="1.3" fill="#111"/>
<rect x="341.15" y="58.11" width="1.3" height="1.3" fill="#111"/>
<rect x="352.96" y="47.89" width="1.3" height="1.3" fill="#111"/>
<rect x="352.44" y="46.54" width="1.3" height="1.3" fill="#111"/>
<rect x="340.76" y="50.88" width="1.3" height="1.3" fill="#111"/>
<rect x="352.42" y="54.09" width="1.3" height="1.3" fill="#111"/>
<rect x="356.12" y="55.73" width="1.3" height="1.3" fill="#111"/>
<rect x="352.33" y="49.87" width="1.3" height="1.3" fill="#111"/>
<rect x="345.61" y="47.01" width="1.3" height="1.3" fill="#111"/>
<rect x="364.83" y="43.93" width="1.3" height="1.3" fill="#111"/>
<rect x="345.81" y="48.16" width="1.3" height="1.3" fill="#111"/>
<rect x="343.22" y="50.75" width="1.3" height="1.3" fill="#111"/>
<rect x="349.21" y="52.63" width="1.3" height="1.3" fill="#111"/>
<rect x="345.35" y="47.80" width="1.3" height="1.3" fill="#111"/>
<rect x="350.95" y="51.83" width="1.3" height="1.3" fill="#111"/>
<rect x="336.93" y="45.55" width="1.3" height="1.3" fill="#111"/>
<rect x="336.50" y="54.66" width="1.3" height="1.3" fill="#111"/>
<rect x="357.97" y="45.67" width="1.3" height="1.3" fill="#111"/>
<rect x="348.86" y="52.65" width="1.3" height="1.3" fill="#111"/>
<rect x="361.66" y="46.10" width="1.3" height="1.3" fill="#111"/>
<rect x="345.22" y="55.02" width="1.3" height="1.3" fill="#111"/>
<rect x="374.27" y="52.53" width="1.3" height="1.3" fill="#111"/>
<rect x="335.02" y="52.67" width="1.3" height="1.3" fill="#111"/>
<rect x="344.06" y="49.97" width="1.3" height="1.3" fill="#111"/>
<rect x="339.93" y="48.91" width="1.3" height="1.3" fill="#111"/>
<rect x="347.87" y="56.14" width="1.3" height="1.3" fill="#111"/>
<rect x="355.16" y="50.57" width="1.3" height="1.3" fill="#111"/>
<rect x="333.55" y="23.15" width="1.3" height="1.3" fill="#111"/>
<rect x="362.05" y="21.05" width="1.3" height="1.3" fill="#111"/>
<rect x="353.05" y="24.65" width="1.3" height="1.3" fill="#111"/>
<rect x="359.85" y="26.15" width="1.3" height="1.3" fill="#111"/>
<rect x="340.35" y="28.05" width="1.3" height="1.3" fill="#111"/>
<rect x="350.05" y="29.15" width="1.3" height="1.3" fill="#111"/>
<rect x="356.85" y="28.55" width="1.3" height="1.3" fill="#111"/>
<rect x="328.35" y="34.85" width="1.3" height="1.3" fill="#111"/>
<rect x="332.85" y="35.55" width="1.3" height="1.3" fill="#111"/>
<rect x="341.05" y="33.35" width="1.3" height="1.3" fill="#111"/>
<rect x="340.35" y="36.35" width="1.3" height="1.3" fill="#111"/>
<rect x="359.05" y="34.55" width="1.3" height="1.3" fill="#111"/>
<rect x="370.35" y="34.55" width="1.3" height="1.3" fill="#111"/>
<rect x="344.05" y="37.55" width="1.3" height="1.3" fill="#111"/>
<rect x="348.55" y="37.55" width="1.3" height="1.3" fill="#111"/>
<rect x="360.55" y="37.55" width="1.3" height="1.3" fill="#111"/>
<rect x="335.05" y="39.65" width="1.3" height="1.3" fill="#111"/>
<rect x="347.05" y="39.35" width="1.3" height="1.3" fill="#111"/>
<rect x="356.05" y="39.35" width="1.3" height="1.3" fill="#111"/>
<rect x="362.85" y="39.35" width="1.3" height="1.3" fill="#111"/>
<rect x="342.55" y="41.55" width="1.3" height="1.3" fill="#111"/>
<rect x="345.55" y="42.05" width="1.3" height="1.3" fill="#111"/>
<rect x="350.85" y="41.15" width="1.3" height="1.3" fill="#111"/>
<rect x="354.55" y="42.35" width="1.3" height="1.3" fill="#111"/>
<rect x="359.85" y="42.35" width="1.3" height="1.3" fill="#111"/>
<rect x="368.05" y="41.55" width="1.3" height="1.3" fill="#111"/>
<rect x="337.35" y="44.55" width="1.3" height="1.3" fill="#111"/>
<rect x="347.85" y="43.85" width="1.3" height="1.3" fill="#111"/>
<rect x="359.05" y="44.55" width="1.3" height="1.3" fill="#111"/>
<rect x="361.35" y="43.05" width="1.3" height="1.3" fill="#111"/>
<rect x="317.85" y="62.35" width="1.3" height="1.3" fill="#111"/>
<rect x="319.15" y="65.35" width="1.3" height="1.3" fill="#111"/>
<rect x="319.75" y="69.25" width="1.3" height="1.3" fill="#111"/>
<rect x="325.35" y="69.85" width="1.3" height="1.3" fill="#111"/>
<rect x="328.35" y="71.15" width="1.3" height="1.3" fill="#111"/>
<rect x="334.15" y="69.85" width="1.3" height="1.3" fill="#111"/>
<rect x="332.25" y="73.65" width="1.3" height="1.3" fill="#111"/>
<rect x="314.75" y="75.45" width="1.3" height="1.3" fill="#111"/>
<rect x="323.35" y="67.95" width="1.3" height="1.3" fill="#111"/>
<rect x="336.35" y="67.95" width="1.3" height="1.3" fill="#111"/>
<rect x="365.35" y="54.35" width="1.3" height="1.3" fill="#111"/>
<rect x="371.35" y="57.35" width="1.3" height="1.3" fill="#111"/>
<rect x="357.35" y="61.35" width="1.3" height="1.3" fill="#111"/>
<rect x="352.35" y="56.35" width="1.3" height="1.3" fill="#111"/>
<rect x="315.35" y="54.35" width="1.3" height="1.3" fill="#111"/>
<rect x="369.35" y="47.35" width="1.3" height="1.3" fill="#111"/>
<rect x="373.35" y="51.35" width="1.3" height="1.3" fill="#111"/>
<line x1="303.50" y1="14.40" x2="303.50" y2="85.60" stroke="#111" stroke-width="1.3" />
<line x1="301.10" y1="83.20" x2="303.50" y2="83.20" stroke="#111" stroke-width="1.3" />
<text x="0" y="0" transform="translate(300.10 86.10) scale(1 1.0)" font-size="6.3" text-anchor="end" stroke="#111" stroke-width="0.25" >0</text>
<line x1="301.10" y1="71.83" x2="303.50" y2="71.83" stroke="#111" stroke-width="1.3" />
<text x="0" y="0" transform="translate(300.10 74.73) scale(1 1.0)" font-size="6.3" text-anchor="end" stroke="#111" stroke-width="0.25" >100</text>
<line x1="301.10" y1="60.46" x2="303.50" y2="60.46" stroke="#111" stroke-width="1.3" />
<text x="0" y="0" transform="translate(300.10 63.36) scale(1 1.0)" font-size="6.3" text-anchor="end" stroke="#111" stroke-width="0.25" >200</text>
<line x1="301.10" y1="49.09" x2="303.50" y2="49.09" stroke="#111" stroke-width="1.3" />
<text x="0" y="0" transform="translate(300.10 51.99) scale(1 1.0)" font-size="6.3" text-anchor="end" stroke="#111" stroke-width="0.25" >300</text>
<line x1="301.10" y1="37.72" x2="303.50" y2="37.72" stroke="#111" stroke-width="1.3" />
<text x="0" y="0" transform="translate(300.10 40.62) scale(1 1.0)" font-size="6.3" text-anchor="end" stroke="#111" stroke-width="0.25" >400</text>
<line x1="301.10" y1="26.35" x2="303.50" y2="26.35" stroke="#111" stroke-width="1.3" />
<text x="0" y="0" transform="translate(300.10 29.25) scale(1 1.0)" font-size="6.3" text-anchor="end" stroke="#111" stroke-width="0.25" >500</text>
<line x1="301.10" y1="14.98" x2="303.50" y2="14.98" stroke="#111" stroke-width="1.3" />
<text x="0" y="0" transform="translate(300.10 17.88) scale(1 1.0)" font-size="6.3" text-anchor="end" stroke="#111" stroke-width="0.25" >600</text>
<line x1="302.90" y1="83.20" x2="394.60" y2="83.20" stroke="#111" stroke-width="1.3" />
<line x1="303.50" y1="83.20" x2="303.50" y2="85.60" stroke="#111" stroke-width="1.3" />
<text x="0" y="0" transform="translate(303.50 92.80) scale(1 1.0)" font-size="6.3" text-anchor="middle" stroke="#111" stroke-width="0.25" >0</text>
<line x1="314.20" y1="83.20" x2="314.20" y2="85.60" stroke="#111" stroke-width="1.3" />
<line x1="324.90" y1="83.20" x2="324.90" y2="85.60" stroke="#111" stroke-width="1.3" />
<text x="0" y="0" transform="translate(324.90 92.80) scale(1 1.0)" font-size="6.3" text-anchor="middle" stroke="#111" stroke-width="0.25" >200</text>
<line x1="335.60" y1="83.20" x2="335.60" y2="85.60" stroke="#111" stroke-width="1.3" />
<line x1="346.30" y1="83.20" x2="346.30" y2="85.60" stroke="#111" stroke-width="1.3" />
<text x="0" y="0" transform="translate(346.30 92.80) scale(1 1.0)" font-size="6.3" text-anchor="middle" stroke="#111" stroke-width="0.25" >400</text>
<line x1="357.00" y1="83.20" x2="357.00" y2="85.60" stroke="#111" stroke-width="1.3" />
<line x1="367.70" y1="83.20" x2="367.70" y2="85.60" stroke="#111" stroke-width="1.3" />
<text x="0" y="0" transform="translate(367.70 92.80) scale(1 1.0)" font-size="6.3" text-anchor="middle" stroke="#111" stroke-width="0.25" >600</text>
<line x1="378.40" y1="83.20" x2="378.40" y2="85.60" stroke="#111" stroke-width="1.3" />
<line x1="389.10" y1="83.20" x2="389.10" y2="85.60" stroke="#111" stroke-width="1.3" />
<text x="0" y="0" transform="translate(389.10 92.80) scale(1 1.0)" font-size="6.3" text-anchor="middle" stroke="#111" stroke-width="0.25" >800</text>
<text x="0" y="0" transform="translate(349.30 106.30) scale(1 1.0)" font-size="7.85" text-anchor="middle" stroke="#111" stroke-width="0.25" >PVI (mm<tspan font-size="5.8" dy="-3.1">2</tspan><tspan dy="3.1">/m</tspan><tspan font-size="5.8" dy="-3.1">2</tspan><tspan dy="3.1">)</tspan></text>
<text x="0" y="0" font-size="8.15" text-anchor="middle" stroke="#111" stroke-width="0.25" transform="translate(286.0 47.3) rotate(-90)">Nakata index (mm<tspan font-size="5.8" dy="-3.1">2</tspan><tspan dy="3.1">/m</tspan><tspan font-size="5.8" dy="-3.1">2</tspan><tspan dy="3.1">)</tspan></text>
<text x="0" y="0" transform="translate(396.20 73.10) scale(1 1.0)" font-size="6.6" text-anchor="end" stroke="#111" stroke-width="0.15" >Pearson r = 0.473</text>
<text x="0" y="0" transform="translate(394.50 81.60) scale(1 1.0)" font-size="6.6" text-anchor="end" stroke="#111" stroke-width="0.15" >P value &lt; 0.001</text>
<line x1="27.50" y1="207.30" x2="117.90" y2="140.20" stroke="#f6e4e4" stroke-width="2.4" />
<line x1="27.50" y1="207.30" x2="117.90" y2="140.20" stroke="#a8404e" stroke-width="1.15" stroke-dasharray="2.6 1.9"/>
<polyline points="27.50,207.50 32.49,207.50 32.49,193.84 33.58,193.84 33.58,180.18 38.85,180.18 40.21,152.86 42.57,139.20 118.30,139.20" fill="none" stroke="#111" stroke-width="1.35" stroke-linejoin="miter"/>
<line x1="27.50" y1="138.60" x2="27.50" y2="209.90" stroke="#111" stroke-width="1.3" />
<line x1="25.10" y1="207.50" x2="27.50" y2="207.50" stroke="#111" stroke-width="1.3" />
<text x="0" y="0" transform="translate(24.10 210.40) scale(1 1.0)" font-size="6.3" text-anchor="end" stroke="#111" stroke-width="0.25" >0</text>
<line x1="25.10" y1="193.84" x2="27.50" y2="193.84" stroke="#111" stroke-width="1.3" />
<text x="0" y="0" transform="translate(24.10 196.74) scale(1 1.0)" font-size="6.3" text-anchor="end" stroke="#111" stroke-width="0.25" >20</text>
<line x1="25.10" y1="180.18" x2="27.50" y2="180.18" stroke="#111" stroke-width="1.3" />
<text x="0" y="0" transform="translate(24.10 183.08) scale(1 1.0)" font-size="6.3" text-anchor="end" stroke="#111" stroke-width="0.25" >40</text>
<line x1="25.10" y1="166.52" x2="27.50" y2="166.52" stroke="#111" stroke-width="1.3" />
<text x="0" y="0" transform="translate(24.10 169.42) scale(1 1.0)" font-size="6.3" text-anchor="end" stroke="#111" stroke-width="0.25" >60</text>
<line x1="25.10" y1="152.86" x2="27.50" y2="152.86" stroke="#111" stroke-width="1.3" />
<text x="0" y="0" transform="translate(24.10 155.76) scale(1 1.0)" font-size="6.3" text-anchor="end" stroke="#111" stroke-width="0.25" >80</text>
<line x1="25.10" y1="139.20" x2="27.50" y2="139.20" stroke="#111" stroke-width="1.3" />
<text x="0" y="0" transform="translate(24.10 142.10) scale(1 1.0)" font-size="6.3" text-anchor="end" stroke="#111" stroke-width="0.25" >100</text>
<line x1="26.90" y1="207.50" x2="118.90" y2="207.50" stroke="#111" stroke-width="1.3" />
<line x1="27.50" y1="207.50" x2="27.50" y2="209.90" stroke="#111" stroke-width="1.3" />
<text x="0" y="0" transform="translate(27.50 217.10) scale(1 1.0)" font-size="6.3" text-anchor="middle" stroke="#111" stroke-width="0.25" >0</text>
<line x1="45.66" y1="207.50" x2="45.66" y2="209.90" stroke="#111" stroke-width="1.3" />
<text x="0" y="0" transform="translate(45.66 217.10) scale(1 1.0)" font-size="6.3" text-anchor="middle" stroke="#111" stroke-width="0.25" >20</text>
<line x1="63.82" y1="207.50" x2="63.82" y2="209.90" stroke="#111" stroke-width="1.3" />
<text x="0" y="0" transform="translate(63.82 217.10) scale(1 1.0)" font-size="6.3" text-anchor="middle" stroke="#111" stroke-width="0.25" >40</text>
<line x1="81.98" y1="207.50" x2="81.98" y2="209.90" stroke="#111" stroke-width="1.3" />
<text x="0" y="0" transform="translate(81.98 217.10) scale(1 1.0)" font-size="6.3" text-anchor="middle" stroke="#111" stroke-width="0.25" >60</text>
<line x1="100.14" y1="207.50" x2="100.14" y2="209.90" stroke="#111" stroke-width="1.3" />
<text x="0" y="0" transform="translate(100.14 217.10) scale(1 1.0)" font-size="6.3" text-anchor="middle" stroke="#111" stroke-width="0.25" >80</text>
<line x1="118.30" y1="207.50" x2="118.30" y2="209.90" stroke="#111" stroke-width="1.3" />
<text x="0" y="0" transform="translate(118.30 217.10) scale(1 1.0)" font-size="6.3" text-anchor="middle" stroke="#111" stroke-width="0.25" >100</text>
<text x="0" y="0" transform="translate(72.50 128.90) scale(1 1.1)" font-size="7.8" text-anchor="middle" stroke="#111" stroke-width="0.25" >McGoon - Early death</text>
<text x="0" y="0" font-size="8.0" text-anchor="middle" stroke="#111" stroke-width="0.25" transform="translate(9.6 173.5) rotate(-90)">Sensitivity%</text>
<text x="0" y="0" transform="translate(72.90 228.30) scale(1 1.0)" font-size="7.55" text-anchor="middle" stroke="#111" stroke-width="0.25" >100% - Specificity%</text>
<text x="0" y="0" transform="translate(118.80 196.70) scale(1 1.0)" font-size="6.78" text-anchor="end" stroke="#111" stroke-width="0.15" >0.889</text>
<text x="0" y="0" transform="translate(95.00 196.70) scale(1 1.0)" font-size="6.6" text-anchor="start" stroke="#111" stroke-width="0.15" textLength="4.0" lengthAdjust="spacingAndGlyphs">=</text>
<text x="0" y="0" transform="translate(77.50 196.70) scale(1 1.0)" font-size="6.6" text-anchor="start" stroke="#111" stroke-width="0.15" textLength="14.8" lengthAdjust="spacingAndGlyphs">AUC</text>
<text x="0" y="0" transform="translate(118.80 205.20) scale(1 1.0)" font-size="6.78" text-anchor="end" stroke="#111" stroke-width="0.15" >P value = 0.003</text>
<line x1="165.50" y1="207.30" x2="255.90" y2="140.20" stroke="#f6e4e4" stroke-width="2.4" />
<line x1="165.50" y1="207.30" x2="255.90" y2="140.20" stroke="#a8404e" stroke-width="1.15" stroke-dasharray="2.6 1.9"/>
<polyline points="165.50,207.50 174.04,207.50 174.04,193.84 177.21,193.84 177.21,166.52 188.56,166.52 188.56,152.86 206.27,152.86 206.27,139.20 256.30,139.20" fill="none" stroke="#111" stroke-width="1.35" stroke-linejoin="miter"/>
<line x1="165.50" y1="138.60" x2="165.50" y2="209.90" stroke="#111" stroke-width="1.3" />
<line x1="163.10" y1="207.50" x2="165.50" y2="207.50" stroke="#111" stroke-width="1.3" />
<text x="0" y="0" transform="translate(162.10 210.40) scale(1 1.0)" font-size="6.3" text-anchor="end" stroke="#111" stroke-width="0.25" >0</text>
<line x1="163.10" y1="193.84" x2="165.50" y2="193.84" stroke="#111" stroke-width="1.3" />
<text x="0" y="0" transform="translate(162.10 196.74) scale(1 1.0)" font-size="6.3" text-anchor="end" stroke="#111" stroke-width="0.25" >20</text>
<line x1="163.10" y1="180.18" x2="165.50" y2="180.18" stroke="#111" stroke-width="1.3" />
<text x="0" y="0" transform="translate(162.10 183.08) scale(1 1.0)" font-size="6.3" text-anchor="end" stroke="#111" stroke-width="0.25" >40</text>
<line x1="163.10" y1="166.52" x2="165.50" y2="166.52" stroke="#111" stroke-width="1.3" />
<text x="0" y="0" transform="translate(162.10 169.42) scale(1 1.0)" font-size="6.3" text-anchor="end" stroke="#111" stroke-width="0.25" >60</text>
<line x1="163.10" y1="152.86" x2="165.50" y2="152.86" stroke="#111" stroke-width="1.3" />
<text x="0" y="0" transform="translate(162.10 155.76) scale(1 1.0)" font-size="6.3" text-anchor="end" stroke="#111" stroke-width="0.25" >80</text>
<line x1="163.10" y1="139.20" x2="165.50" y2="139.20" stroke="#111" stroke-width="1.3" />
<text x="0" y="0" transform="translate(162.10 142.10) scale(1 1.0)" font-size="6.3" text-anchor="end" stroke="#111" stroke-width="0.25" >100</text>
<line x1="164.90" y1="207.50" x2="256.90" y2="207.50" stroke="#111" stroke-width="1.3" />
<line x1="165.50" y1="207.50" x2="165.50" y2="209.90" stroke="#111" stroke-width="1.3" />
<text x="0" y="0" transform="translate(165.50 217.10) scale(1 1.0)" font-size="6.3" text-anchor="middle" stroke="#111" stroke-width="0.25" >0</text>
<line x1="183.66" y1="207.50" x2="183.66" y2="209.90" stroke="#111" stroke-width="1.3" />
<text x="0" y="0" transform="translate(183.66 217.10) scale(1 1.0)" font-size="6.3" text-anchor="middle" stroke="#111" stroke-width="0.25" >20</text>
<line x1="201.82" y1="207.50" x2="201.82" y2="209.90" stroke="#111" stroke-width="1.3" />
<text x="0" y="0" transform="translate(201.82 217.10) scale(1 1.0)" font-size="6.3" text-anchor="middle" stroke="#111" stroke-width="0.25" >40</text>
<line x1="219.98" y1="207.50" x2="219.98" y2="209.90" stroke="#111" stroke-width="1.3" />
<text x="0" y="0" transform="translate(219.98 217.10) scale(1 1.0)" font-size="6.3" text-anchor="middle" stroke="#111" stroke-width="0.25" >60</text>
<line x1="238.14" y1="207.50" x2="238.14" y2="209.90" stroke="#111" stroke-width="1.3" />
<text x="0" y="0" transform="translate(238.14 217.10) scale(1 1.0)" font-size="6.3" text-anchor="middle" stroke="#111" stroke-width="0.25" >80</text>
<line x1="256.30" y1="207.50" x2="256.30" y2="209.90" stroke="#111" stroke-width="1.3" />
<text x="0" y="0" transform="translate(256.30 217.10) scale(1 1.0)" font-size="6.3" text-anchor="middle" stroke="#111" stroke-width="0.25" >100</text>
<text x="0" y="0" transform="translate(210.60 128.90) scale(1 1.1)" font-size="7.72" text-anchor="middle" stroke="#111" stroke-width="0.25" >Nakata - Early death</text>
<text x="0" y="0" font-size="8.0" text-anchor="middle" stroke="#111" stroke-width="0.25" transform="translate(147.7 173.5) rotate(-90)">Sensitivity%</text>
<text x="0" y="0" transform="translate(210.90 228.30) scale(1 1.0)" font-size="7.55" text-anchor="middle" stroke="#111" stroke-width="0.25" >100% - Specificity%</text>
<text x="0" y="0" transform="translate(256.80 196.70) scale(1 1.0)" font-size="6.78" text-anchor="end" stroke="#111" stroke-width="0.15" >0.789</text>
<text x="0" y="0" transform="translate(233.00 196.70) scale(1 1.0)" font-size="6.6" text-anchor="start" stroke="#111" stroke-width="0.15" textLength="4.0" lengthAdjust="spacingAndGlyphs">=</text>
<text x="0" y="0" transform="translate(215.50 196.70) scale(1 1.0)" font-size="6.6" text-anchor="start" stroke="#111" stroke-width="0.15" textLength="14.8" lengthAdjust="spacingAndGlyphs">AUC</text>
<text x="0" y="0" transform="translate(256.80 205.20) scale(1 1.0)" font-size="6.78" text-anchor="end" stroke="#111" stroke-width="0.15" >P value = 0.027</text>
<line x1="303.50" y1="207.30" x2="393.90" y2="140.20" stroke="#f6e4e4" stroke-width="2.4" />
<line x1="303.50" y1="207.30" x2="393.90" y2="140.20" stroke="#a8404e" stroke-width="1.15" stroke-dasharray="2.6 1.9"/>
<polyline points="303.50,207.50 309.86,207.50 309.86,193.84 310.95,193.84 310.95,180.18 314.85,180.18 314.85,166.52 316.39,166.52 316.39,152.86 318.12,152.86 318.12,139.20 394.30,139.20" fill="none" stroke="#111" stroke-width="1.35" stroke-linejoin="miter"/>
<line x1="303.50" y1="138.60" x2="303.50" y2="209.90" stroke="#111" stroke-width="1.3" />
<line x1="301.10" y1="207.50" x2="303.50" y2="207.50" stroke="#111" stroke-width="1.3" />
<text x="0" y="0" transform="translate(300.10 210.40) scale(1 1.0)" font-size="6.3" text-anchor="end" stroke="#111" stroke-width="0.25" >0</text>
<line x1="301.10" y1="193.84" x2="303.50" y2="193.84" stroke="#111" stroke-width="1.3" />
<text x="0" y="0" transform="translate(300.10 196.74) scale(1 1.0)" font-size="6.3" text-anchor="end" stroke="#111" stroke-width="0.25" >20</text>
<line x1="301.10" y1="180.18" x2="303.50" y2="180.18" stroke="#111" stroke-width="1.3" />
<text x="0" y="0" transform="translate(300.10 183.08) scale(1 1.0)" font-size="6.3" text-anchor="end" stroke="#111" stroke-width="0.25" >40</text>
<line x1="301.10" y1="166.52" x2="303.50" y2="166.52" stroke="#111" stroke-width="1.3" />
<text x="0" y="0" transform="translate(300.10 169.42) scale(1 1.0)" font-size="6.3" text-anchor="end" stroke="#111" stroke-width="0.25" >60</text>
<line x1="301.10" y1="152.86" x2="303.50" y2="152.86" stroke="#111" stroke-width="1.3" />
<text x="0" y="0" transform="translate(300.10 155.76) scale(1 1.0)" font-size="6.3" text-anchor="end" stroke="#111" stroke-width="0.25" >80</text>
<line x1="301.10" y1="139.20" x2="303.50" y2="139.20" stroke="#111" stroke-width="1.3" />
<text x="0" y="0" transform="translate(300.10 142.10) scale(1 1.0)" font-size="6.3" text-anchor="end" stroke="#111" stroke-width="0.25" >100</text>
<line x1="302.90" y1="207.50" x2="394.90" y2="207.50" stroke="#111" stroke-width="1.3" />
<line x1="303.50" y1="207.50" x2="303.50" y2="209.90" stroke="#111" stroke-width="1.3" />
<text x="0" y="0" transform="translate(303.50 217.10) scale(1 1.0)" font-size="6.3" text-anchor="middle" stroke="#111" stroke-width="0.25" >0</text>
<line x1="321.66" y1="207.50" x2="321.66" y2="209.90" stroke="#111" stroke-width="1.3" />
<text x="0" y="0" transform="translate(321.66 217.10) scale(1 1.0)" font-size="6.3" text-anchor="middle" stroke="#111" stroke-width="0.25" >20</text>
<line x1="339.82" y1="207.50" x2="339.82" y2="209.90" stroke="#111" stroke-width="1.3" />
<text x="0" y="0" transform="translate(339.82 217.10) scale(1 1.0)" font-size="6.3" text-anchor="middle" stroke="#111" stroke-width="0.25" >40</text>
<line x1="357.98" y1="207.50" x2="357.98" y2="209.90" stroke="#111" stroke-width="1.3" />
<text x="0" y="0" transform="translate(357.98 217.10) scale(1 1.0)" font-size="6.3" text-anchor="middle" stroke="#111" stroke-width="0.25" >60</text>
<line x1="376.14" y1="207.50" x2="376.14" y2="209.90" stroke="#111" stroke-width="1.3" />
<text x="0" y="0" transform="translate(376.14 217.10) scale(1 1.0)" font-size="6.3" text-anchor="middle" stroke="#111" stroke-width="0.25" >80</text>
<line x1="394.30" y1="207.50" x2="394.30" y2="209.90" stroke="#111" stroke-width="1.3" />
<text x="0" y="0" transform="translate(394.30 217.10) scale(1 1.0)" font-size="6.3" text-anchor="middle" stroke="#111" stroke-width="0.25" >100</text>
<text x="0" y="0" transform="translate(349.40 128.90) scale(1 1.1)" font-size="7.8" text-anchor="middle" stroke="#111" stroke-width="0.25" >PVI - Early death</text>
<text x="0" y="0" font-size="8.0" text-anchor="middle" stroke="#111" stroke-width="0.25" transform="translate(285.6 173.5) rotate(-90)">Sensitivity%</text>
<text x="0" y="0" transform="translate(348.90 228.30) scale(1 1.0)" font-size="7.55" text-anchor="middle" stroke="#111" stroke-width="0.25" >100% - Specificity%</text>
<text x="0" y="0" transform="translate(394.80 196.70) scale(1 1.0)" font-size="6.78" text-anchor="end" stroke="#111" stroke-width="0.15" >0.884</text>
<text x="0" y="0" transform="translate(371.00 196.70) scale(1 1.0)" font-size="6.6" text-anchor="start" stroke="#111" stroke-width="0.15" textLength="4.0" lengthAdjust="spacingAndGlyphs">=</text>
<text x="0" y="0" transform="translate(353.50 196.70) scale(1 1.0)" font-size="6.6" text-anchor="start" stroke="#111" stroke-width="0.15" textLength="14.8" lengthAdjust="spacingAndGlyphs">AUC</text>
<text x="0" y="0" transform="translate(394.80 205.20) scale(1 1.0)" font-size="6.78" text-anchor="end" stroke="#111" stroke-width="0.15" >P value = 0.003</text>
</g></svg></body></html>
